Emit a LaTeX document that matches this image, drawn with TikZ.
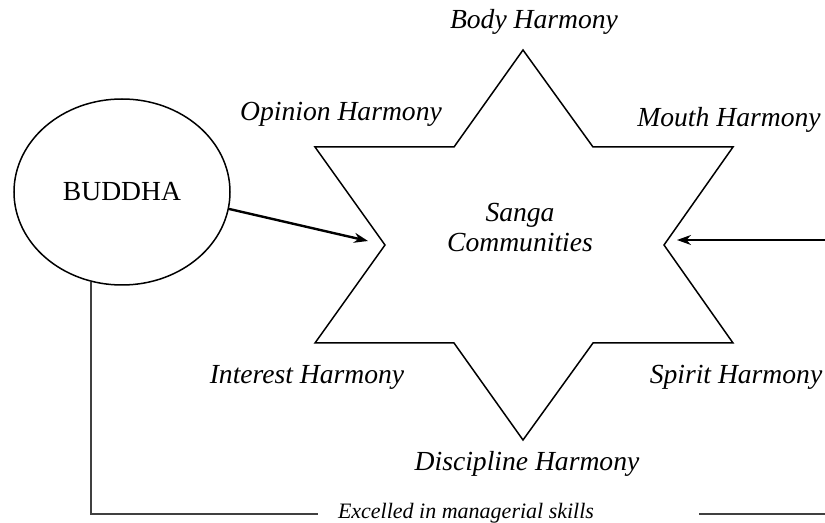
\documentclass[tikz,border=0pt]{standalone}
\usepackage{fontspec}
\setmainfont{Liberation Serif}
\usetikzlibrary{shapes.geometric,arrows.meta}

\begin{document}
\begin{tikzpicture}[x=0.5pt, y=-0.5pt, line join=miter,
		harmony/.style={font=\fontsize{13.8}{15}\selectfont\itshape, inner sep=0pt},
		skill/.style={font=\fontsize{11}{12}\selectfont\itshape, inner sep=0pt}]
		\useasboundingbox (0,0) rectangle (825,523);
		\node (buddha) [ellipse, draw, line width=.75pt, minimum width=108pt, minimum height=93pt, font=\fontsize{13.8}{15}\selectfont] at (122,192) {BUDDHA};
		%Stern
		\draw[line width=.75pt] (523,50) -- (593,147) -- (733,147) -- (664,245) -- (733,343) -- (593,343)
			-- (523,440) -- (454,343) -- (315,343) -- (385,245) -- (315,147) -- (454,147) -- cycle;
		\node (sanga) [harmony, align=center] at (520,228) {Sanga\\Communities};
		\node (body) [harmony] at (534,22) {Body Harmony};
		\node (opinion) [harmony] at (341,114) {Opinion Harmony};
		\node (mouth) [harmony] at (729,120) {Mouth Harmony};
		\node (interest) [harmony] at (307,377) {Interest Harmony};
		\node (spirit) [harmony] at (736,377) {Spirit Harmony};
		\node (discipline) [harmony] at (527,464) {Discipline Harmony};
		%Pfeile
		\coordinate (tipL) at (368,241);
		\coordinate (tipR) at (677,240);
		\coordinate (rand) at (825,240);
		\draw[-{Stealth[length=7pt, width=5pt]}, line width=1.2pt] (buddha.-9) to (tipL);
		\draw[-{Stealth[length=7pt, width=5pt]}, line width=.8pt] (rand) to (tipR);
		%Linie unten
		\coordinate (lineL) at (318,514);
		\coordinate (lineR) at (699,514);
		\coordinate (randU) at (825,514);
		\node (skills) [skill] at (466,513) {Excelled in managerial skills};
		\draw[line width=.9pt, black!75] (buddha.-109) |- (lineL);
		\draw[line width=.9pt, black!75] (lineR) to (randU);
	\end{tikzpicture}
\end{document}
